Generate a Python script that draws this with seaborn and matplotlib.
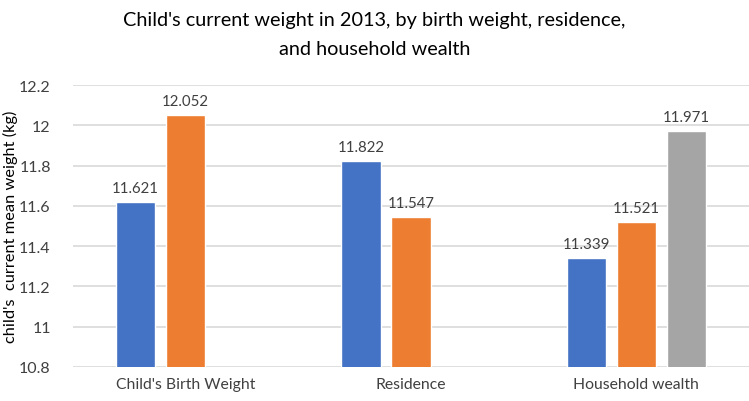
import pandas as pd
import matplotlib.pyplot as plt
import seaborn as sns
from matplotlib.ticker import FuncFormatter

# Chart values
groups = ["Child's Birth Weight", "Child's Birth Weight",
          "Residence", "Residence",
          "Household wealth", "Household wealth", "Household wealth"]
series = ["s1", "s2", "s1", "s2", "s1", "s2", "s3"]
weights = [11.621, 12.052, 11.822, 11.547, 11.339, 11.521, 11.971]

group_order = ["Child's Birth Weight", "Residence", "Household wealth"]
series_order = ["s1", "s2", "s3"]
colors = ["#4472C4", "#ED7D31", "#A5A5A5"]
y_ticks = [10.8, 11, 11.2, 11.4, 11.6, 11.8, 12, 12.2]


def main():
    df = pd.DataFrame({"group": groups, "series": series, "weight": weights})

    sns.set_style("white")
    plt.rcParams['font.family'] = ['Lato', 'DejaVu Sans']

    fig = plt.figure(figsize=(7.49, 4.02), dpi=100)
    ax = fig.add_axes([0.0975, 0.0846, 0.9025, 0.7014])

    sns.barplot(data=df, x="group", y="weight", hue="series",
                order=group_order, hue_order=series_order,
                palette=colors, saturation=1, width=0.665, gap=0.21,
                legend=False, ax=ax, zorder=3)

    ax.set_ylim(10.8, 12.2)
    ax.set_yticks(y_ticks)
    ax.yaxis.set_major_formatter(FuncFormatter(lambda v, p: f"{v:g}"))
    ax.grid(axis="y", color="#D9D9D9", linewidth=1.2, zorder=0)
    ax.set_axisbelow(True)
    for s in ax.spines.values():
        s.set_visible(False)
    ax.tick_params(axis="both", length=0, colors="#404040")
    ax.tick_params(axis="y", labelsize=11.5, pad=16)
    ax.tick_params(axis="x", labelsize=11.3, pad=7)

    for c in ax.containers:
        ax.bar_label(c, fmt="%.3f", padding=5, fontsize=10.8, color="#404040")

    ax.set_xlabel("")
    ax.set_ylabel("child's  current mean weight (kg)", fontsize=11.8,
                  color="#000000")
    ax.yaxis.set_label_coords(-0.082, 0.5)
    fig.suptitle("Child's current weight in 2013, by birth weight, residence,\nand household wealth",
                 fontsize=14.3, y=0.97, linespacing=1.85, color="#000000")

    plt.savefig("out.png", dpi=100)


if __name__ == "__main__":
    main()
